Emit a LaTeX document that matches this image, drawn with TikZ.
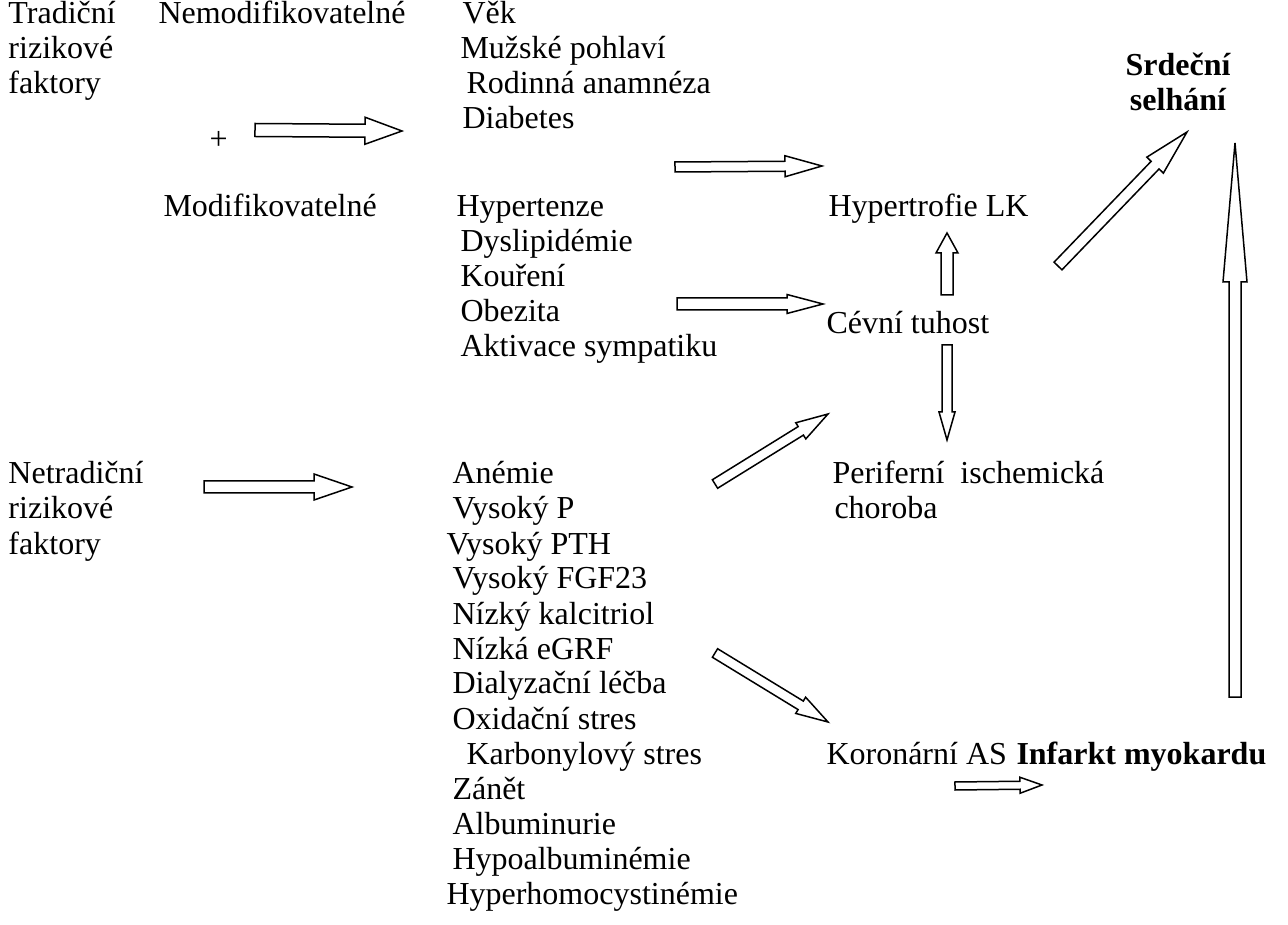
\documentclass[tikz,border=0pt]{standalone}
\usepackage{fontspec}
\setmainfont{Liberation Serif}
\usetikzlibrary{calc}
\tikzset{
  lbl/.style={anchor=base west, inner sep=0pt, font=\fontsize{12.8}{15}\selectfont},
  boldlbl/.style={lbl, font=\fontsize{12.8}{15}\selectfont\bfseries},
  blockarrow/.style={draw, line width=0.6pt, fill=white, line join=miter},
}
% block arrow: tail, tip, shaft half-width, head half-width, head length (px)
\newcommand{\blockarrow}[5]{%
  \coordinate (hb) at ($(#2)!#5*0.4pt!(#1)$);
  \draw[blockarrow] ($(#1)!#3*0.4pt!90:(#2)$) -- ($(hb)!#3*0.4pt!90:(#2)$)
    -- ($(hb)!#4*0.4pt!90:(#2)$) -- (#2) -- ($(hb)!#4*0.4pt!-90:(#2)$)
    -- ($(hb)!#3*0.4pt!-90:(#2)$) -- ($(#1)!#3*0.4pt!-90:(#2)$) -- cycle;
}

\begin{document}
\begin{tikzpicture}[x=0.4pt, y=-0.4pt]
  \useasboundingbox (0,0) rectangle (1288,925);

  % traditional risk factors
  \node[lbl] (trad1) at (8,24) {Tradiční};
  \node[lbl] (trad2) at (8,59) {rizikové};
  \node[lbl] (trad3) at (8,94) {faktory};
  \node[lbl] (nemod) at (158,24) {Nemodifikovatelné};
  \node[lbl] (plus) at (209,150) {+};
  \node[lbl] (mod) at (163,217) {Modifikovatelné};
  \foreach \x/\t [count=\i] in {462/Věk, 460/Mužské pohlaví,
      466/Rodinná anamnéza, 462/Diabetes}
    \node[lbl] (nm\i) at (\x,-11+35*\i) {\t};
  \foreach \x/\t [count=\i] in {456/Hypertenze, 460/Dyslipidémie, 460/Kouření,
      460/Obezita, 460/Aktivace sympatiku}
    \node[lbl] (md\i) at (\x,182+35*\i) {\t};

  % non-traditional risk factors
  \node[lbl] (ntrad1) at (8,484) {Netradiční};
  \node[lbl] (ntrad2) at (8,519) {rizikové};
  \node[lbl] (ntrad3) at (8,554) {faktory};
  \foreach \x/\t [count=\i] in {452/Anémie, 452/Vysoký P, 446/Vysoký PTH, 452/Vysoký FGF23,
      452/Nízký kalcitriol, 452/Nízká eGRF, 452/Dialyzační léčba, 452/Oxidační stres,
      466/Karbonylový stres, 452/Zánět, 452/Albuminurie, 452/Hypoalbuminémie,
      446/Hyperhomocystinémie}
    \node[lbl] (nt\i) at (\x,449+35*\i) {\t};

  % consequences
  \node[lbl] (hlk) at (828,217) {Hypertrofie LK};
  \node[lbl] (stiff) at (826,334) {Cévní tuhost};
  \node[lbl] (pic1) at (832,484) {Periferní\ \ ischemická};
  \node[lbl] (pic2) at (834,519) {choroba};
  \node[lbl] (cas) at (826,764) {Koronární AS};
  \node[boldlbl] (mi) at (1016,764) {Infarkt myokardu};
  \node[boldlbl, anchor=base] (hf1) at (1178,76) {Srdeční};
  \node[boldlbl, anchor=base] (hf2) at (1178,111) {selhání};

  % arrows
  \coordinate (a1s) at (255,130);  \coordinate (a1e) at (402,131);
  \coordinate (a2s) at (675,167);  \coordinate (a2e) at (822,166);
  \coordinate (a3s) at (677,304);  \coordinate (a3e) at (823,304);
  \coordinate (a4s) at (204,487);  \coordinate (a4e) at (352,487);
  \coordinate (a5s) at (947,295);  \coordinate (a5e) at (947,233);
  \coordinate (a6s) at (947,345);  \coordinate (a6e) at (947,440);
  \coordinate (a7s) at (1058,266); \coordinate (a7e) at (1187,132);
  \coordinate (a8s) at (1235,697); \coordinate (a8e) at (1235,143);
  \coordinate (a9s) at (715,484);  \coordinate (a9e) at (828,414);
  \coordinate (a10s) at (715,653); \coordinate (a10e) at (828,722);
  \coordinate (a11s) at (955,786); \coordinate (a11e) at (1042,785);
  \blockarrow{a1s}{a1e}{6.5}{13.5}{37}
  \blockarrow{a2s}{a2e}{5}{10.5}{37}
  \blockarrow{a3s}{a3e}{6}{9.5}{36}
  \blockarrow{a4s}{a4e}{6}{13}{38}
  \blockarrow{a5s}{a5e}{6}{11}{20}
  \blockarrow{a6s}{a6e}{5}{8}{28}
  \blockarrow{a7s}{a7e}{5.5}{11.5}{46}
  \blockarrow{a8s}{a8e}{6}{12}{139}
  \blockarrow{a9s}{a9e}{5}{9.5}{32}
  \blockarrow{a10s}{a10e}{5}{9.5}{32}
  \blockarrow{a11s}{a11e}{4}{8}{22}
\end{tikzpicture}
\end{document}
